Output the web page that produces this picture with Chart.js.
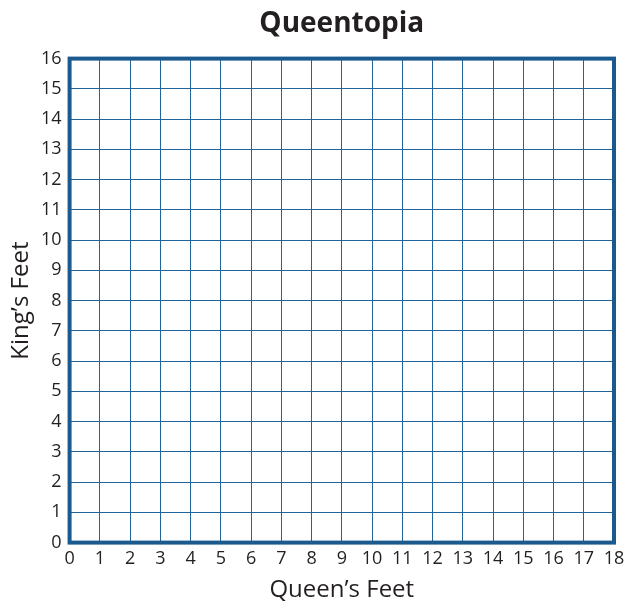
<!DOCTYPE html>
<html>
<head>
<meta charset="utf-8">
<script src="https://cdn.jsdelivr.net/npm/chart.js@4"></script>
<style>
  html, body { margin: 0; padding: 0; background: #ffffff; }
  #wrap { width: 626px; height: 604px; }
</style>
</head>
<body>
<div id="wrap"><canvas id="chart"></canvas></div>
<script>
// blank grid: no points plotted
const xTicks = [0, 1, 2, 3, 4, 5, 6, 7, 8, 9, 10, 11, 12, 13, 14, 15, 16, 17, 18];
const yTicks = [0, 1, 2, 3, 4, 5, 6, 7, 8, 9, 10, 11, 12, 13, 14, 15, 16];
const points = [];

const gridBlue = '#22649a';
const borderBlue = '#1a5a8e';
const textColor = '#231f20';
const fontFamily = '"Open Sans", "DejaVu Sans", sans-serif';

// thick frame round the plot area
const framePlugin = {
    id: 'frame',
    afterDraw(chart) {
        const { ctx, chartArea: a } = chart;
        ctx.save();
        ctx.strokeStyle = borderBlue;
        ctx.lineWidth = 4;
        ctx.strokeRect(a.left, a.top, a.right - a.left, a.bottom - a.top);
        ctx.restore();
    }
};

new Chart(document.getElementById('chart'), {
    type: 'scatter',
    data: {
        datasets: [{
            label: 'Queentopia',
            data: points,
            pointRadius: 4,
            backgroundColor: borderBlue
        }]
    },
    options: {
        responsive: true,
        maintainAspectRatio: false,
        animation: false,
        layout: { padding: { left: 9, right: 12, top: 7, bottom: -1 } },
        plugins: {
            legend: { display: false },
            tooltip: { enabled: false },
            title: {
                display: true,
                fullSize: false,
                text: 'Queentopia',
                color: textColor,
                font: { family: fontFamily, size: 28, weight: 'bold' },
                padding: { top: 0, bottom: 18 }
            }
        },
        scales: {
            x: {
                type: 'linear',
                min: xTicks[0],
                max: xTicks[xTicks.length - 1],
                afterBuildTicks: axis => { axis.ticks = xTicks.map(v => ({ value: v })); },
                // let the "18" label hang into the right margin
                afterFit: axis => { axis.paddingRight = 0; },
                grid: { color: gridBlue, lineWidth: 1, drawTicks: false },
                border: { display: false },
                ticks: {
                    color: textColor,
                    padding: 5,
                    maxRotation: 0,
                    autoSkip: false,
                    font: { family: fontFamily, size: 18 }
                },
                title: {
                    display: true,
                    text: 'Queen’s Feet',
                    color: textColor,
                    font: { family: fontFamily, size: 24 },
                    padding: { top: 2, bottom: 0 }
                }
            },
            y: {
                type: 'linear',
                min: yTicks[0],
                max: yTicks[yTicks.length - 1],
                afterBuildTicks: axis => { axis.ticks = yTicks.map(v => ({ value: v })); },
                grid: { color: gridBlue, lineWidth: 1, drawTicks: false },
                border: { display: false },
                ticks: {
                    color: textColor,
                    padding: 8,
                    autoSkip: false,
                    font: { family: fontFamily, size: 18 }
                },
                title: {
                    display: true,
                    text: 'King’s Feet',
                    color: textColor,
                    font: { family: fontFamily, size: 24, lineHeight: 1 },
                    padding: { top: 0, bottom: 0 }
                }
            }
        }
    },
    plugins: [framePlugin]
});
</script>
</body>
</html>
